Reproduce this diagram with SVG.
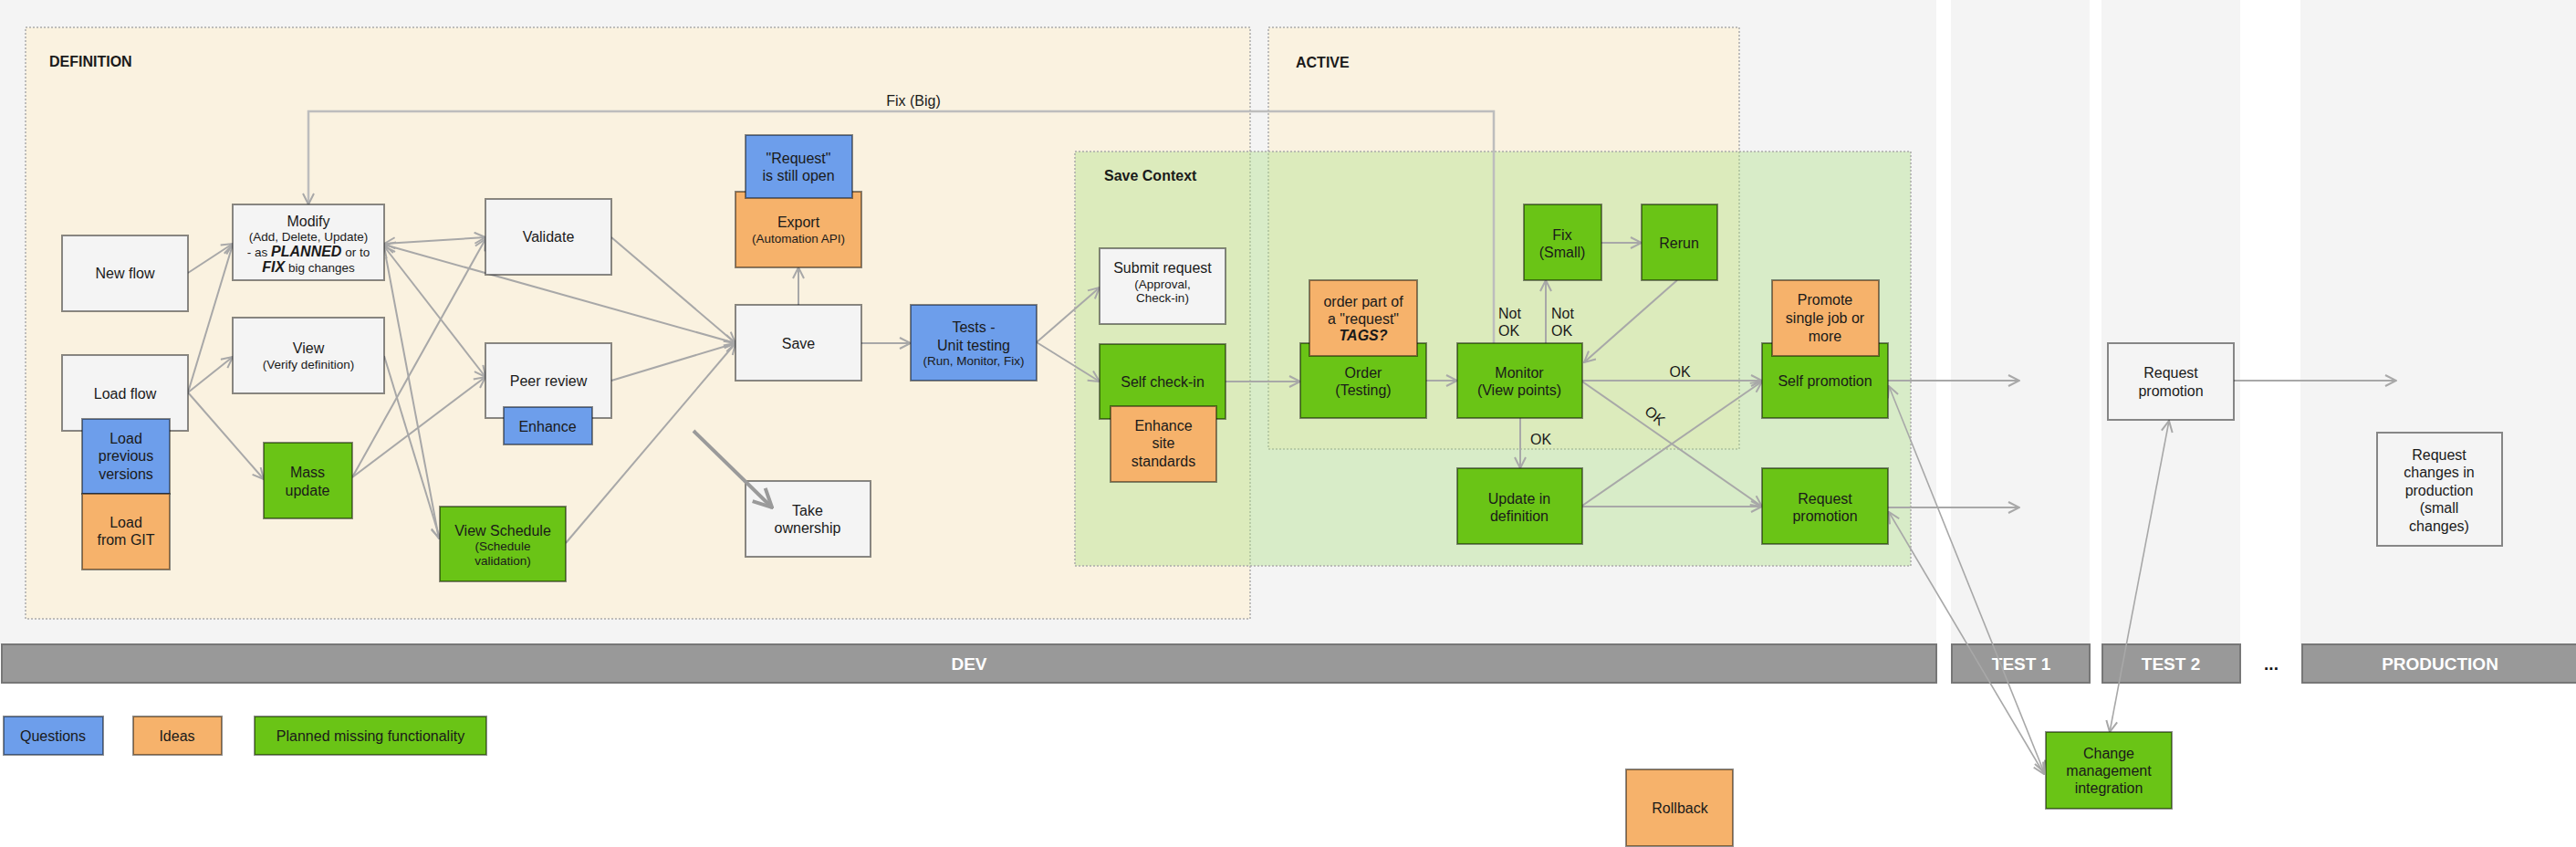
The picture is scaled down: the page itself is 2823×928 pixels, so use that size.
<svg xmlns="http://www.w3.org/2000/svg" width="2823" height="928" viewBox="0 0 2823 928">
<style>
.lane{fill:#f4f4f4}
.hdr{fill:#999;stroke:#777;stroke-width:2}
.ht{font-family:"Liberation Sans",Arial,sans-serif;font-size:19px;font-weight:bold;fill:#fff;text-anchor:middle}
.cont{stroke:#aaa;stroke-width:1.5;stroke-dasharray:2 2}
.ct{font-family:"Liberation Sans",Arial,sans-serif;font-size:16px;font-weight:bold;fill:#1a1a1a}
.n rect{stroke:#000;stroke-opacity:.45;stroke-width:2}
.w{fill:#f4f4f4}.g{fill:#6ac416}.b{fill:#6d9eeb}.o{fill:#f6b26b}
text{font-family:"Liberation Sans",Arial,sans-serif;font-size:16px;fill:#1a1a1a}
.n text{text-anchor:middle}
.s{font-size:13.5px}
.bi{font-weight:bold;font-style:italic;font-size:16px}
.c path{fill:none;stroke:#a8a8a8;stroke-width:2}
.c .thin{stroke-width:1.6}
.lbl{font-size:16px}
</style>
<defs>
<marker id="a" viewBox="0 0 14 14" refX="13" refY="7" markerWidth="14" markerHeight="14" markerUnits="userSpaceOnUse" orient="auto-start-reverse"><path d="M1,1 L13,7 L1,13" fill="none" stroke="#a8a8a8" stroke-width="2"/></marker>
<marker id="big" viewBox="0 0 24 24" refX="22" refY="12" markerWidth="24" markerHeight="24" markerUnits="userSpaceOnUse" orient="auto"><path d="M2,2 L22,12 L2,22" fill="none" stroke="#9a9a9a" stroke-width="4"/></marker>
</defs>

<g id="lanes">
<rect class="lane" x="0" y="0" width="2122" height="706"/>
<rect class="lane" x="2138" y="0" width="152" height="706"/>
<rect class="lane" x="2303" y="0" width="152" height="706"/>
<rect class="lane" x="2521" y="0" width="302" height="706"/>
<rect class="hdr" x="2" y="706" width="2120" height="42"/>
<rect class="hdr" x="2139" y="706" width="151" height="42"/>
<rect class="hdr" x="2304" y="706" width="151" height="42"/>
<rect class="hdr" x="2523" y="706" width="302" height="42"/>
<text class="ht" x="1062" y="734">DEV</text>
<text class="ht" x="2215" y="734">TEST 1</text>
<text class="ht" x="2379" y="734">TEST 2</text>
<text class="ht" x="2489" y="734" style="fill:#111">...</text>
<text class="ht" x="2674" y="734">PRODUCTION</text>
</g>

<g id="containers">
<rect id="definition" class="cont" x="28" y="30" width="1342" height="648" fill="#faf2e0"/>
<rect id="active" class="cont" x="1390" y="30" width="516" height="462" fill="#faf2e0"/>
<rect id="save-context" class="cont" x="1178" y="166" width="916" height="454" fill="rgb(174,224,134)" fill-opacity="0.4"/>
<text class="ct" x="54" y="73">DEFINITION</text>
<text class="ct" x="1420" y="74">ACTIVE</text>
<text class="ct" x="1210" y="198">Save Context</text>
</g>

<g id="connectors" class="c">
<path d="M206,299 L255,267" marker-end="url(#a)"/>
<path d="M206,430 L255,268" marker-end="url(#a)"/>
<path d="M206,430 L255,391" marker-end="url(#a)"/>
<path d="M206,430 L289,525" marker-end="url(#a)"/>
<path d="M421,267 L532,260" marker-start="url(#a)" marker-end="url(#a)"/>
<path d="M421,268 L806,376" marker-start="url(#a)" marker-end="url(#a)"/>
<path d="M421,270 L532,413" marker-start="url(#a)" marker-end="url(#a)"/>
<path d="M423,282 L481,590" marker-end="url(#a)"/>
<path d="M421,390 L482,590" marker-end="url(#a)"/>
<path d="M386,523 L532,262" marker-end="url(#a)"/>
<path d="M386,523 L532,413" marker-end="url(#a)"/>
<path d="M670,260 L806,376" marker-end="url(#a)"/>
<path d="M670,417 L806,376" marker-end="url(#a)"/>
<path d="M620,595 L806,376" marker-end="url(#a)"/>
<path d="M875,334 L875,293" marker-end="url(#a)"/>
<path d="M944,376 L998,376" marker-end="url(#a)"/>
<path d="M1136,375 L1205,315" marker-end="url(#a)"/>
<path d="M1136,375 L1205,418" marker-end="url(#a)"/>
<path d="M1343,418 L1425,418" marker-end="url(#a)"/>
<path d="M1563,417 L1597,417" marker-end="url(#a)"/>
<path d="M1694,376 L1694,307" marker-end="url(#a)"/>
<path d="M1755,266 L1799,266" marker-end="url(#a)"/>
<path d="M1838,307 L1736,397" marker-end="url(#a)"/>
<path d="M1734,417 L1931,417" marker-end="url(#a)"/>
<path d="M1734,418 L1931,555" marker-end="url(#a)"/>
<path d="M1666,458 L1666,513" marker-end="url(#a)"/>
<path d="M1734,554 L1931,418" marker-end="url(#a)"/>
<path d="M1734,555 L1931,555" marker-end="url(#a)"/>
<path d="M1637,376 V122 H338 V224" style="stroke:#bdbdbd;stroke-width:2.5" marker-end="url(#a)"/>
<path d="M2069,417 L2213,417" marker-end="url(#a)"/>
<path d="M2069,556 L2213,556" marker-end="url(#a)"/>
<path d="M2448,417 L2626,417" marker-end="url(#a)"/>
<path class="thin" d="M2240,846 L2070,423" marker-start="url(#a)" marker-end="url(#a)"/>
<path class="thin" d="M2240,848 L2070,561" marker-start="url(#a)" marker-end="url(#a)"/>
<path class="thin" d="M2312,802 L2377,461" marker-start="url(#a)" marker-end="url(#a)"/>
<text class="lbl" x="1001" y="116" text-anchor="middle">Fix (Big)</text>
<text class="lbl" x="1642" y="349">Not</text>
<text class="lbl" x="1642" y="368">OK</text>
<text class="lbl" x="1700" y="349">Not</text>
<text class="lbl" x="1700" y="368">OK</text>
<text class="lbl" x="1841" y="413" text-anchor="middle">OK</text>
<text class="lbl" x="1677" y="487">OK</text>
<text class="lbl" x="1814" y="461" text-anchor="middle" transform="rotate(40 1814 455)">OK</text>
</g>

<g id="new-flow" class="n"><rect class="w" x="68" y="258" width="138" height="83"/><text x="137" y="305">New flow</text></g>
<g id="load-flow" class="n"><rect class="w" x="68" y="389" width="138" height="83"/><text x="137" y="437">Load flow</text></g>
<g id="load-previous" class="n"><rect class="b" x="90" y="459" width="96" height="82"/><text x="138" y="486">Load</text><text x="138" y="505">previous</text><text x="138" y="525">versions</text></g>
<g id="load-git" class="n"><rect class="o" x="90" y="541" width="96" height="83"/><text x="138" y="578">Load</text><text x="138" y="597">from GIT</text></g>
<g id="modify" class="n"><rect class="w" x="255" y="224" width="166" height="83"/><text x="338" y="248">Modify</text><text class="s" x="338" y="264">(Add, Delete, Update)</text><text class="s" x="338" y="281">- as <tspan class="bi">PLANNED</tspan> or to</text><text class="s" x="338" y="298"><tspan class="bi">FIX</tspan> big changes</text></g>
<g id="view" class="n"><rect class="w" x="255" y="348" width="166" height="83"/><text x="338" y="387">View</text><text class="s" x="338" y="404">(Verify definition)</text></g>
<g id="validate" class="n"><rect class="w" x="532" y="218" width="138" height="83"/><text x="601" y="265">Validate</text></g>
<g id="peer-review" class="n"><rect class="w" x="532" y="376" width="138" height="82"/><text x="601" y="423">Peer review</text></g>
<g id="enhance" class="n"><rect class="b" x="552" y="446" width="97" height="41"/><text x="600" y="473">Enhance</text></g>
<g id="mass-update" class="n"><rect class="g" x="289" y="485" width="97" height="83"/><text x="337" y="523">Mass</text><text x="337" y="543">update</text></g>
<g id="view-schedule" class="n"><rect class="g" x="482" y="555" width="138" height="82"/><text x="551" y="587">View Schedule</text><text class="s" x="551" y="603">(Schedule</text><text class="s" x="551" y="619">validation)</text></g>
<g id="save" class="n"><rect class="w" x="806" y="334" width="138" height="83"/><text x="875" y="382">Save</text></g>
<g id="export" class="n"><rect class="o" x="806" y="210" width="138" height="83"/><text x="875" y="249">Export</text><text class="s" x="875" y="266">(Automation API)</text></g>
<g id="request-open" class="n"><rect class="b" x="817" y="148" width="117" height="69"/><text x="875" y="179">"Request"</text><text x="875" y="198">is still open</text></g>
<g id="tests" class="n"><rect class="b" x="998" y="334" width="138" height="83"/><text x="1067" y="364">Tests -</text><text x="1067" y="384">Unit testing</text><text class="s" x="1067" y="400">(Run, Monitor, Fix)</text></g>
<g id="take-ownership" class="n"><rect class="w" x="817" y="527" width="137" height="83"/><text x="885" y="565">Take</text><text x="885" y="584">ownership</text></g>
<g id="submit-request" class="n"><rect class="w" x="1205" y="272" width="138" height="83"/><text x="1274" y="299">Submit request</text><text class="s" x="1274" y="316">(Approval,</text><text class="s" x="1274" y="331">Check-in)</text></g>
<g id="self-check-in" class="n"><rect class="g" x="1205" y="377" width="138" height="82"/><text x="1274" y="424">Self check-in</text></g>
<g id="enhance-site" class="n"><rect class="o" x="1217" y="445" width="116" height="83"/><text x="1275" y="472">Enhance</text><text x="1275" y="491">site</text><text x="1275" y="511">standards</text></g>
<g id="order" class="n"><rect class="g" x="1425" y="376" width="138" height="82"/><text x="1494" y="414">Order</text><text x="1494" y="433">(Testing)</text></g>
<g id="order-tags" class="n"><rect class="o" x="1435" y="307" width="118" height="83"/><text x="1494" y="336">order part of</text><text x="1494" y="355">a "request"</text><text class="bi" x="1494" y="373">TAGS?</text></g>
<g id="monitor" class="n"><rect class="g" x="1597" y="376" width="137" height="82"/><text x="1665" y="414">Monitor</text><text x="1665" y="433">(View points)</text></g>
<g id="fix-small" class="n"><rect class="g" x="1670" y="224" width="85" height="83"/><text x="1712" y="263">Fix</text><text x="1712" y="282">(Small)</text></g>
<g id="rerun" class="n"><rect class="g" x="1799" y="224" width="83" height="83"/><text x="1840" y="272">Rerun</text></g>
<g id="update-definition" class="n"><rect class="g" x="1597" y="513" width="137" height="83"/><text x="1665" y="552">Update in</text><text x="1665" y="571">definition</text></g>
<g id="self-promotion" class="n"><rect class="g" x="1931" y="376" width="138" height="82"/><text x="2000" y="423">Self promotion</text></g>
<g id="promote-single" class="n"><rect class="o" x="1942" y="307" width="117" height="83"/><text x="2000" y="334">Promote</text><text x="2000" y="354">single job or</text><text x="2000" y="374">more</text></g>
<g id="request-promotion-dev" class="n"><rect class="g" x="1931" y="513" width="138" height="83"/><text x="2000" y="552">Request</text><text x="2000" y="571">promotion</text></g>
<g id="request-promotion-test2" class="n"><rect class="w" x="2310" y="376" width="138" height="84"/><text x="2379" y="414">Request</text><text x="2379" y="434">promotion</text></g>
<g id="request-changes-prod" class="n"><rect class="w" x="2605" y="474" width="137" height="124"/><text x="2673" y="504">Request</text><text x="2673" y="523">changes in</text><text x="2673" y="543">production</text><text x="2673" y="562">(small</text><text x="2673" y="582">changes)</text></g>
<g id="change-management" class="n"><rect class="g" x="2242" y="802" width="138" height="84"/><text x="2311" y="831">Change</text><text x="2311" y="850">management</text><text x="2311" y="869">integration</text></g>
<g id="rollback" class="n"><rect class="o" x="1782" y="843" width="117" height="84"/><text x="1841" y="891">Rollback</text></g>

<g id="ownership-arrow" class="c">
<path d="M760,472 L846,556" style="stroke:#9a9a9a;stroke-width:4" marker-end="url(#big)"/>
</g>

<g id="legend">
<g id="legend-questions" class="n"><rect class="b" x="4" y="785" width="109" height="42"/><text x="58" y="812">Questions</text></g>
<g id="legend-ideas" class="n"><rect class="o" x="146" y="785" width="97" height="42"/><text x="194" y="812">Ideas</text></g>
<g id="legend-planned" class="n"><rect class="g" x="279" y="785" width="254" height="42"/><text x="406" y="812">Planned missing functionality</text></g>
</g>
</svg>
